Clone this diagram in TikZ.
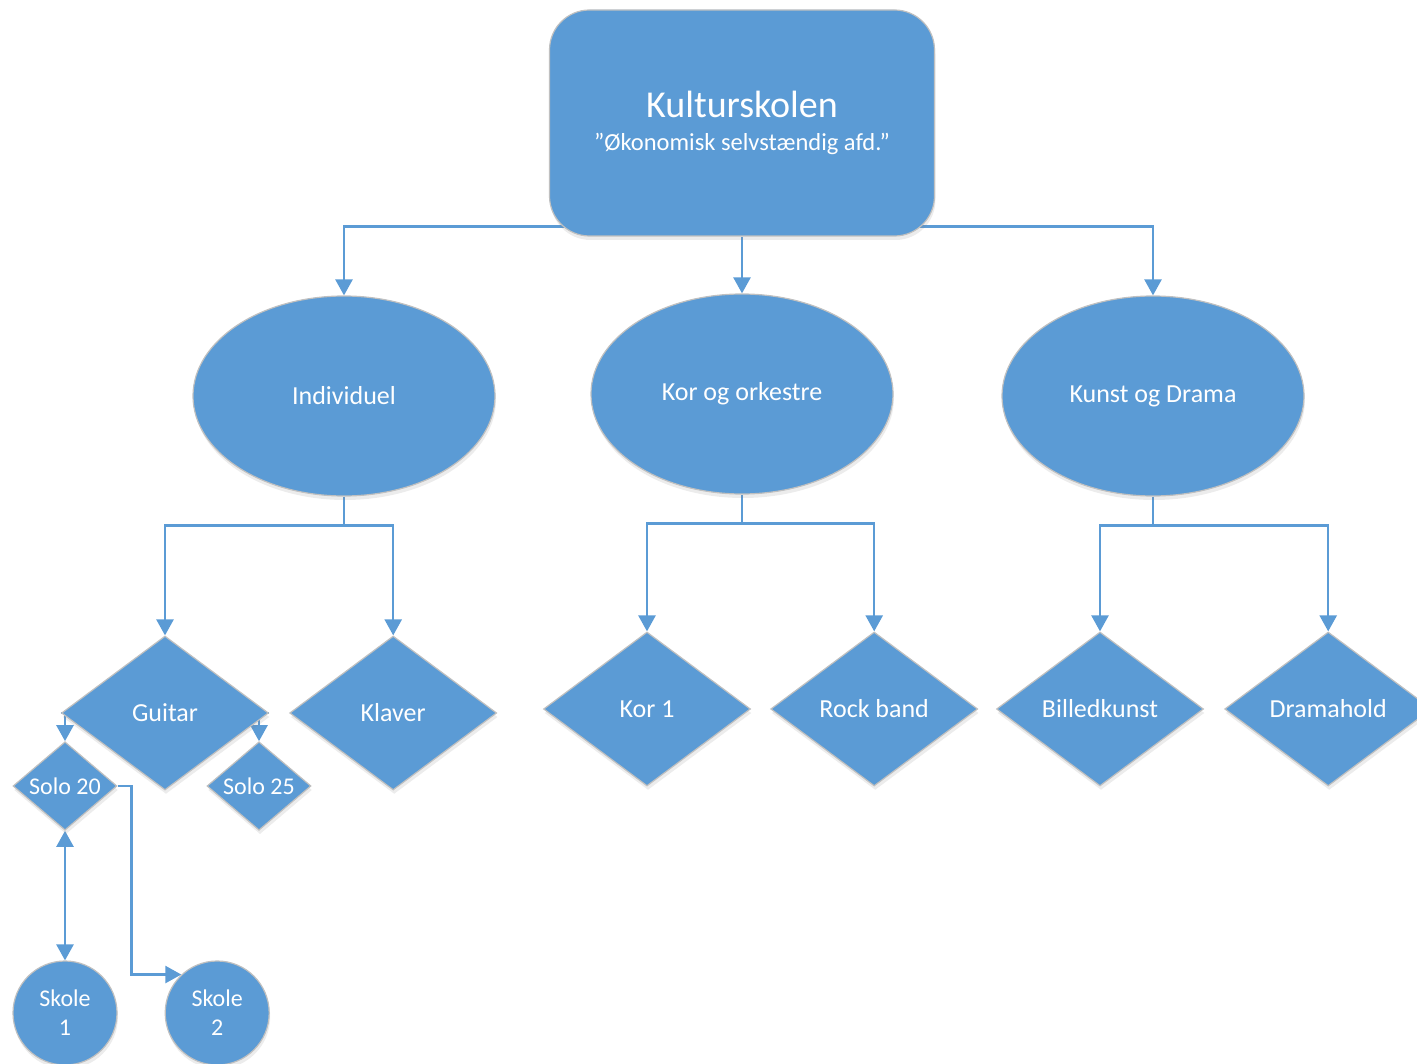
\documentclass[tikz,border=0pt]{standalone}
\usepackage{fontspec}
\setmainfont{Carlito}
\usetikzlibrary{positioning, arrows.meta, shapes.geometric, backgrounds, shadows}
\definecolor{orgblue}{RGB}{91, 155, 213}
\definecolor{edgegray}{RGB}{192, 192, 192}

\begin{document}
\begin{tikzpicture}[
    x=1pt, y=-1pt, % pixel-like units, y grows downwards
    >={Triangle[length=16pt, width=17pt]},
    unit/.style={ % common look of all blocks
        fill=orgblue,
        draw=edgegray,
        line width=1.2pt,
        text=white,
        align=center,
        inner sep=0pt,
        font=\fontsize{26}{30}\selectfont,
        drop shadow={opacity=0.15, shadow xshift=1pt, shadow yshift=-4pt}
    },
    head/.style={unit, rectangle, rounded corners=40pt, minimum width=385pt, minimum height=226pt},
    dept/.style={unit, ellipse, minimum width=302pt, minimum height=200pt},
    subject/.style={unit, diamond, minimum width=207pt, minimum height=154pt},
    team/.style={unit, diamond, minimum width=104pt, minimum height=77pt, font=\fontsize{24}{28}\selectfont},
    school/.style={unit, circle, minimum size=104pt, font=\fontsize{24}{29}\selectfont},
    % connector style
    link/.style={->, draw=orgblue, line width=2.5pt}
]
\useasboundingbox (0,0) rectangle (1417,1064);

% Top block
\node[head] (top) at (742,123) {{\fontsize{38}{42}\selectfont Kulturskolen}\\[3pt]
    {\fontsize{24.5}{28}\selectfont ”Økonomisk selvstændig afd.”}};

% Departments
\node[dept] (indiv) at (344,396) {Individuel};
\node[dept] (kor) at (742,394) {Kor og orkestre};
\node[dept] (kunst) at (1153,396) {Kunst og Drama};

% Subjects
\node[subject] (guitar) at (165,713) {Guitar};
\node[subject] (klaver) [right=20pt of guitar] {Klaver};
\node[subject] (kor1) at (647,709) {Kor 1};
\node[subject] (rock) [right=19pt of kor1] {Rock band};
\node[subject] (billed) at (1100,709) {Billedkunst};
\node[subject] (drama) [right=20pt of billed] {Dramahold};

% Guitar teams
\node[team] (solo20) at (65,786) {Solo 20};
\node[team] (solo25) at (259,786) {Solo 25};

% Schools
\node[school] (skole1) at (65,1013) {Skole\\1};
\node[school] (skole2) [right=47pt of skole1] {Skole\\2};

% Connectors behind the blocks
\begin{pgfonlayer}{background}
    \draw[link] ([xshift=40pt, yshift=10pt]top.south west) -| (indiv.north);
    \draw[link] (top) -- (kor);
    \draw[link] ([xshift=-40pt, yshift=10pt]top.south east) -| (kunst.north);

    \draw[link] (indiv.south) -- ++(0,29) -| (guitar.north);
    \draw[link] (indiv.south) -- ++(0,29) -| (klaver.north);
    \draw[link] (kor.south) -- ++(0,29) -| (kor1.north);
    \draw[link] (kor.south) -- ++(0,29) -| (rock.north);
    \draw[link] (kunst.south) -- ++(0,29) -| (billed.north);
    \draw[link] (kunst.south) -- ++(0,29) -| (drama.north);

    \draw[link] (guitar.west) -| (solo20.north);
    \draw[link] (guitar.east) -| (solo25.north);

    \draw[link, <->] (solo20) -- (skole1);
    \draw[link] (solo20.east) -- ++(14,0) |- (skole2.133);
\end{pgfonlayer}

\end{tikzpicture}
\end{document}
